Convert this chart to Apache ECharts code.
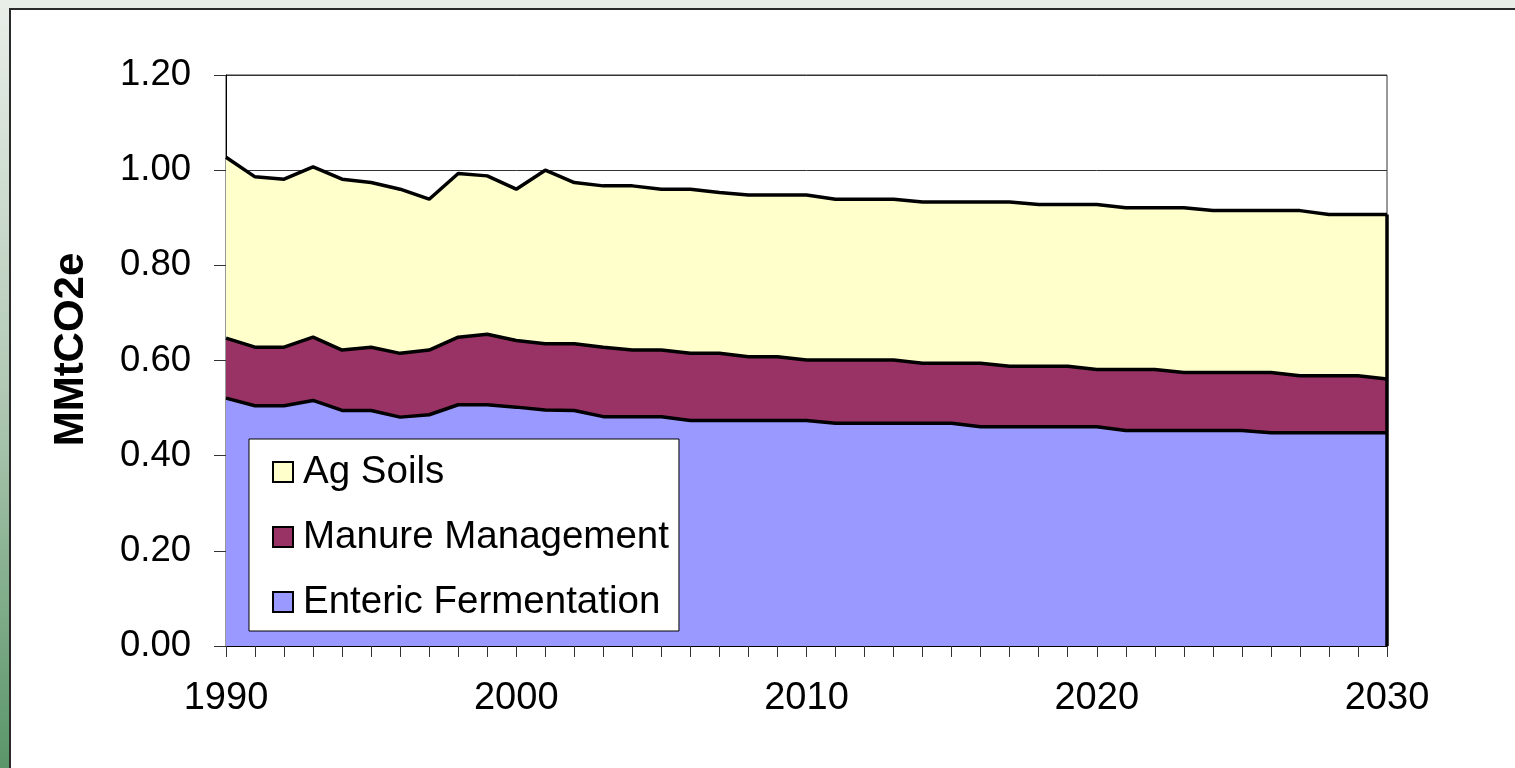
<!DOCTYPE html>
<html>
<head>
<meta charset="utf-8">
<script src="https://cdn.jsdelivr.net/npm/echarts@6/dist/echarts.min.js"></script>
<style>
  html, body { margin: 0; padding: 0; width: 1515px; height: 768px; overflow: hidden; background: #e9eee9; }
  #strip { position: absolute; left: 0; top: 0; width: 9px; height: 768px;
    background: linear-gradient(to bottom, #e9eee9 0%, #b3cab6 50%, #5a9669 100%); }
  #panel { position: absolute; left: 9px; top: 8px; right: 0; bottom: 0; background: #ffffff;
    border-left: 2px solid #2a2a2a; border-top: 2px solid #2a2a2a; }
  #chart { position: absolute; left: 0; top: 0; width: 1515px; height: 768px; }
</style>
</head>
<body>
<div id="strip"></div>
<div id="panel"></div>
<div id="chart"></div>
<script>
const years = [];
for (let y = 1990; y <= 2030; y++) years.push(String(y));

const entericFermentation = [
  0.521, 0.505, 0.505, 0.516, 0.495, 0.495, 0.481, 0.486, 0.507, 0.507,
  0.502, 0.496, 0.495, 0.482, 0.482, 0.482, 0.474, 0.474, 0.474, 0.474,
  0.474, 0.468, 0.468, 0.468, 0.468, 0.468, 0.461, 0.461, 0.461, 0.461,
  0.461, 0.453, 0.453, 0.453, 0.453, 0.453, 0.448, 0.448, 0.448, 0.448,
  0.448
];
const manureManagement = [
  0.126, 0.123, 0.123, 0.133, 0.127, 0.133, 0.134, 0.136, 0.142, 0.148,
  0.140, 0.139, 0.140, 0.146, 0.140, 0.140, 0.141, 0.141, 0.134, 0.134,
  0.127, 0.133, 0.133, 0.133, 0.126, 0.126, 0.133, 0.127, 0.127, 0.127,
  0.120, 0.128, 0.128, 0.122, 0.122, 0.122, 0.127, 0.120, 0.120, 0.120,
  0.113
];
const agSoils = [
  0.380, 0.358, 0.353, 0.358, 0.359, 0.346, 0.345, 0.317, 0.344, 0.333,
  0.318, 0.365, 0.339, 0.339, 0.345, 0.338, 0.345, 0.338, 0.340, 0.340,
  0.347, 0.338, 0.338, 0.338, 0.339, 0.339, 0.339, 0.345, 0.340, 0.340,
  0.347, 0.340, 0.340, 0.346, 0.340, 0.340, 0.340, 0.347, 0.339, 0.339,
  0.346
];
const yTicks = ['0.00', '0.20', '0.40', '0.60', '0.80', '1.00', '1.20'];

const last = years.length - 1;
const lastTotal = entericFermentation[last] + manureManagement[last] + agSoils[last];

const font = '"Liberation Sans", Arial, sans-serif';
const chart = echarts.init(document.getElementById('chart'));

function areaSeries(name, data, color, extra) {
  return Object.assign({
    name: name,
    type: 'line',
    stack: 'total',
    data: data,
    symbol: 'none',
    lineStyle: { color: '#000000', width: 3.5 },
    areaStyle: { color: color, opacity: 1 },
    itemStyle: { color: color, borderColor: '#000000', borderWidth: 2 },
    emphasis: { disabled: true },
    z: 2
  }, extra || {});
}

chart.setOption({
  animation: false,
  backgroundColor: 'transparent',
  grid: { left: 226, right: 128, top: 75, bottom: 122, show: true, borderColor: '#333333', borderWidth: 1 },
  legend: {
    orient: 'vertical',
    left: 249,
    top: 439,
    backgroundColor: '#ffffff',
    borderColor: '#000000',
    borderWidth: 1,
    padding: [13, 10, 9, 23],
    itemGap: 25,
    itemWidth: 20,
    itemHeight: 20,
    icon: 'rect',
    selectedMode: false,
    textStyle: { fontFamily: font, fontSize: 38.5, color: '#000000', lineHeight: 40, padding: [0, 0, 0, 5] },
    data: ['Ag Soils', 'Manure Management', 'Enteric Fermentation']
  },
  xAxis: {
    type: 'category',
    boundaryGap: false,
    data: years,
    axisLine: { lineStyle: { color: '#000000', width: 1 } },
    axisTick: { show: true, interval: 0, length: 11, lineStyle: { color: '#333333' } },
    axisLabel: {
      interval: function (i, v) { return Number(v) % 10 === 0; },
      fontFamily: font, fontSize: 38, color: '#000000', margin: 34
    },
    splitLine: { show: false }
  },
  yAxis: {
    type: 'value',
    min: 0,
    max: 1.2,
    interval: 0.2,
    name: 'MMtCO2e',
    nameLocation: 'middle',
    nameGap: 134,
    nameTextStyle: { fontFamily: font, fontSize: 42, fontWeight: 'bold', color: '#000000', padding: [0, 0, 0, 22] },
    axisLine: { show: true, lineStyle: { color: '#000000', width: 1 } },
    axisTick: { show: true, length: 12, lineStyle: { color: '#333333' } },
    axisLabel: {
      formatter: function (v) { return yTicks[Math.round(v / 0.2)]; },
      fontFamily: font, fontSize: 36.5, color: '#000000', margin: 35
    },
    splitLine: { show: true, lineStyle: { color: '#333333', width: 1 } }
  },
  series: [
    areaSeries('Enteric Fermentation', entericFermentation, '#9999ff'),
    areaSeries('Manure Management', manureManagement, '#993366'),
    areaSeries('Ag Soils', agSoils, '#ffffcc', {
      markLine: {
        silent: true,
        symbol: 'none',
        label: { show: false },
        lineStyle: { color: '#000000', width: 3.5, type: 'solid' },
        data: [[{ coord: [years[last], 0] }, { coord: [years[last], lastTotal] }]]
      }
    })
  ]
});
</script>
</body>
</html>
